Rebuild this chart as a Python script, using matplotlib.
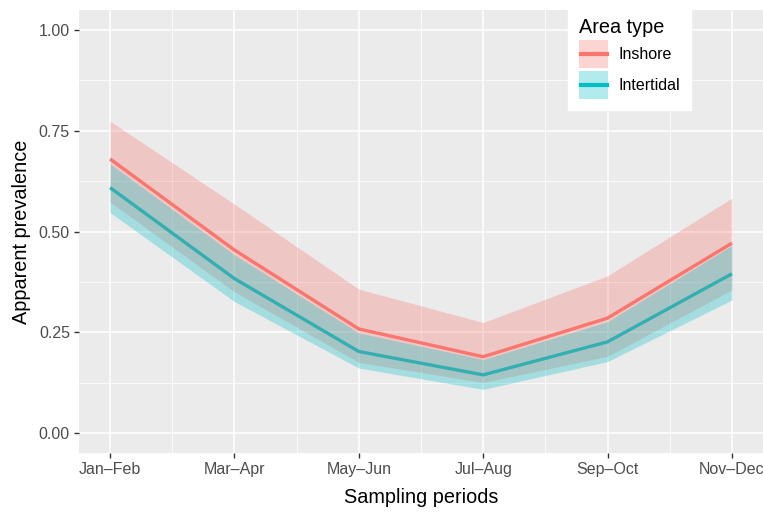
import numpy as np
import matplotlib
matplotlib.use("Agg")
import matplotlib.pyplot as plt
from matplotlib.patches import Patch, Rectangle
from matplotlib.lines import Line2D
from matplotlib.ticker import MultipleLocator

plt.rcParams['font.family'] = ['Liberation Sans', 'DejaVu Sans']

periods = ['Jan–Feb', 'Mar–Apr', 'May–Jun', 'Jul–Aug', 'Sep–Oct', 'Nov–Dec']

inshore_mid = [0.680, 0.454, 0.258, 0.189, 0.285, 0.471]
inshore_low = [0.573, 0.350, 0.175, 0.125, 0.190, 0.355]
inshore_high = [0.774, 0.568, 0.357, 0.274, 0.390, 0.583]

intertidal_mid = [0.609, 0.383, 0.202, 0.144, 0.226, 0.395]
intertidal_low = [0.547, 0.326, 0.161, 0.108, 0.177, 0.330]
intertidal_high = [0.668, 0.442, 0.248, 0.182, 0.276, 0.465]

red = '#F8766D'
teal = '#00BFC4'
x = np.arange(len(periods))


class KeyHandler:
    # ggplot-like key: ribbon box with the line across the middle
    def legend_artist(self, legend, orig_handle, fontsize, handlebox):
        x0, y0 = -handlebox.xdescent, -handlebox.ydescent
        w, h = handlebox.width, handlebox.height
        c = orig_handle.get_facecolor()[:3]
        rect = Rectangle((x0, y0), w, h, facecolor=c, alpha=0.3, lw=0,
                         transform=handlebox.get_transform())
        line = Line2D([x0 + 1, x0 + w - 1], [y0 + h / 2] * 2, color=c, lw=3,
                      transform=handlebox.get_transform())
        handlebox.add_artist(rect)
        handlebox.add_artist(line)
        return rect


fig = plt.figure(figsize=(7.63, 5.14), dpi=100)
ax = fig.add_axes([79 / 763, 1 - 453 / 514, 1 - 79 / 763, 443 / 514])
ax.set_facecolor('#EBEBEB')

# lines first, ribbons drawn over them (as in the original)
ax.plot(x, inshore_mid, color=red, lw=2.4, zorder=2, solid_capstyle='butt')
ax.plot(x, intertidal_mid, color=teal, lw=2.4, zorder=2, solid_capstyle='butt')
ax.fill_between(x, inshore_low, inshore_high, color=red, alpha=0.3, lw=0, zorder=3)
ax.fill_between(x, intertidal_low, intertidal_high, color=teal, alpha=0.3, lw=0, zorder=3)

ax.set_xlim(-0.25, 5.25)
ax.set_ylim(-0.05, 1.05)
ax.set_xticks(x)
ax.set_xticklabels(periods)
ax.set_yticks([0, 0.25, 0.5, 0.75, 1.0])
ax.set_yticklabels(['0.00', '0.25', '0.50', '0.75', '1.00'])
ax.xaxis.set_minor_locator(MultipleLocator(0.5))
ax.yaxis.set_minor_locator(MultipleLocator(0.125))

ax.grid(which='major', color='white', lw=1.1, zorder=0)
ax.grid(which='minor', color='white', lw=0.55, zorder=0)
ax.set_axisbelow(True)
for s in ax.spines.values():
    s.set_visible(False)
ax.tick_params(which='major', length=3.5, width=1, color='#333333',
               labelsize=11.5, labelcolor='#4D4D4D', pad=3)
ax.tick_params(which='minor', length=0)

ax.set_xlabel('Sampling periods', fontsize=14.3, labelpad=8)
ax.set_ylabel('Apparent prevalence', fontsize=14.3, labelpad=6)

handles = [Patch(facecolor=red), Patch(facecolor=teal)]
leg = ax.legend(handles, ['Inshore', 'Intertidal'], title='Area type',
                handler_map={Patch: KeyHandler()},
                loc='upper left', bbox_to_anchor=(568 / 763, 1 - 7 / 514),
                bbox_transform=fig.transFigure,
                fontsize=11.5, title_fontsize=14.3, frameon=True, fancybox=False,
                handlelength=1.8, handleheight=2.3, labelspacing=0.2,
                handletextpad=0.65, borderpad=0.7, borderaxespad=0)
leg.get_frame().set_facecolor('white')
leg.get_frame().set_edgecolor('white')
leg.get_frame().set_alpha(1)
leg._legend_box.align = 'left'
leg.set_zorder(5)

fig.savefig('out.png', dpi=100)
